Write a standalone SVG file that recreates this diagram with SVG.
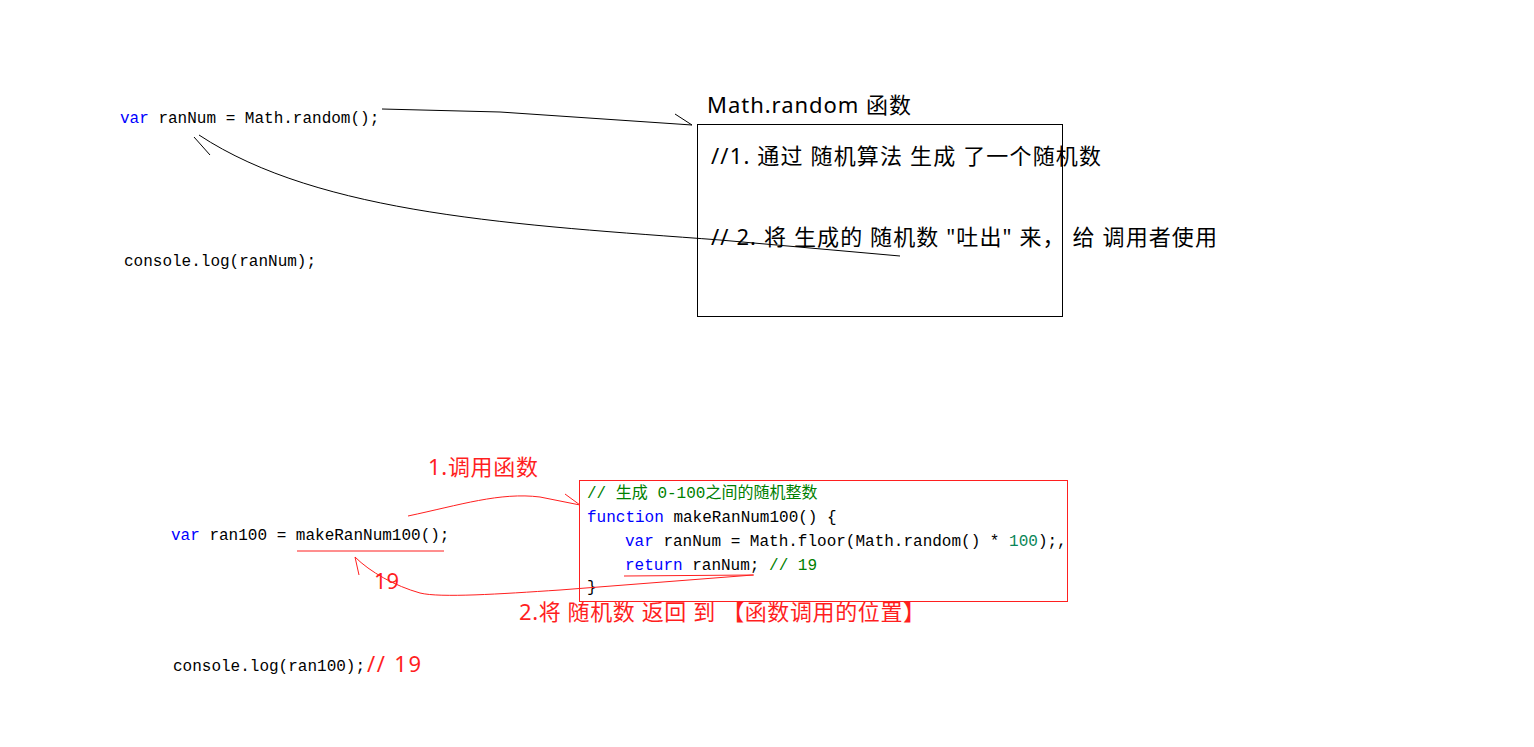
<svg xmlns="http://www.w3.org/2000/svg" width="1534" height="747" viewBox="0 0 1534 747">
<style>
.code{font-family:"Liberation Mono","Noto Sans CJK SC",monospace;font-size:16px;fill:#000}
.kw{fill:#0000ff}
.cm{fill:#008000}
.num{fill:#098658}
.note{font-family:"Noto Sans","Noto Sans CJK SC",sans-serif;font-size:22px;fill:#000}
.red{font-family:"Noto Sans","Noto Sans CJK SC",sans-serif;font-size:22px;fill:#ff1f1f}
.ln{fill:none;stroke:#000;stroke-width:1}
.rl{fill:none;stroke:#ff1f1f;stroke-width:1}
</style>
<rect width="1534" height="747" fill="#fff"/>

<g id="top-code">
<text class="code" x="120" y="123"><tspan class="kw">var</tspan> ranNum = Math.random();</text>
<text class="code" x="124" y="266">console.log(ranNum);</text>
</g>

<g id="math-random-box">
<text class="note" x="707" y="113" textLength="204">Math.random 函数</text>
<rect x="697.5" y="124.5" width="365" height="192" fill="none" stroke="#000"/>
<text class="note" x="711" y="164" textLength="390">//1. 通过 随机算法 生成 了一个随机数</text>
<text class="note" x="711" y="245" textLength="506">// 2. 将 生成的 随机数 "吐出" 来， 给 调用者使用</text>
</g>

<g id="bottom-code">
<text class="code" x="171" y="540"><tspan class="kw">var</tspan> ran100 = makeRanNum100();</text>
<text class="code" x="173" y="671">console.log(ran100);</text>
<text class="red" x="367" y="672" textLength="54">// 19</text>
</g>

<g id="function-box">
<rect x="579.5" y="480.5" width="488" height="121" fill="none" stroke="#ff1f1f"/>
<text class="code cm" x="587" y="498">// 生成 0-100之间的随机整数</text>
<text class="code" x="587" y="522"><tspan class="kw">function</tspan> makeRanNum100() {</text>
<text class="code" x="625" y="546"><tspan class="kw">var</tspan> ranNum = Math.floor(Math.random() * <tspan class="num">100</tspan>);,</text>
<text class="code" x="625" y="570"><tspan class="kw">return</tspan> ranNum; <tspan class="cm">// 19</tspan></text>
<text class="code" x="587" y="592">}</text>
</g>

<g id="labels">
<text class="red" x="428" y="475" textLength="110">1.调用函数</text>
<text class="red" x="374" y="589" textLength="25">19</text>
<text class="red" x="519" y="620" textLength="406">2.将 随机数 返回 到 【函数调用的位置】</text>
</g>

<g id="connectors">
<path class="ln" d="M382 109 L500 112 L692 125"/>
<path class="ln" d="M675 114 L692 125"/>
<path class="ln" d="M900 256 L720 240 C520 225 320 215 199 135"/>
<path class="ln" d="M194 137 L210 155"/>
<path class="rl" d="M297 551 L444 551"/>
<path class="rl" d="M408 516 C460 505 500 492 540 497 L580 505"/>
<path class="rl" d="M565 494 L580 505"/>
<path class="rl" d="M624 576 L754 575"/>
<path class="rl" d="M753 575 L560 590 C500 594 440 598 420 593 C395 586 370 572 355 557"/>
<path class="rl" d="M355 557 L359 575"/>
</g>
</svg>
